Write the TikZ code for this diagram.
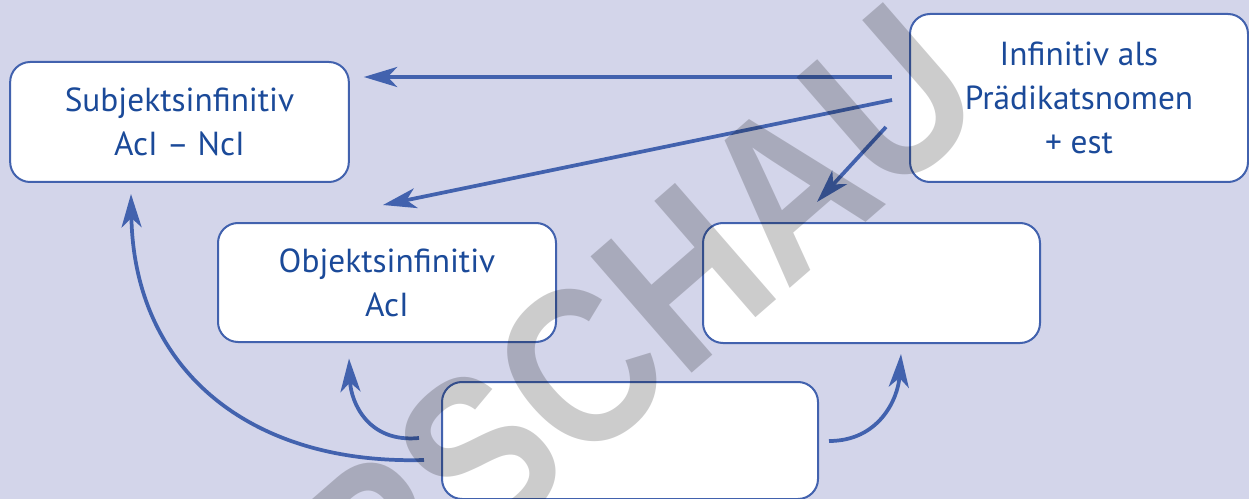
\documentclass[tikz,border=0pt]{standalone}
\usepackage{fontspec}
\setmainfont{PT Sans}
\newfontfamily\wzfont{Liberation Sans}
\usetikzlibrary{arrows.meta,calc}

\definecolor{bgviolet}{RGB}{211,213,234}
\definecolor{boxblue}{RGB}{66,98,174}
\definecolor{textblue}{RGB}{27,74,153}

\tikzset{every picture/.style={line width=0.75pt}}
\tikzset{
  kasten/.style={draw=boxblue, line width=1.5pt, fill=white, rounded corners=15pt,
    inner sep=0pt, align=center, text=textblue, font=\fontsize{25}{33}\selectfont},
  pfeil/.style={draw=boxblue, line width=2.8pt,
    -{Stealth[length=25pt,width=15pt,inset=7pt]}},
  wasserzeichen/.style={text=black, text opacity=0.2, font=\wzfont\bfseries\fontsize{168}{168}\selectfont}
}

\begin{document}
\begin{tikzpicture}[x=0.75pt,y=0.75pt,yscale=-1,xscale=1]
% Background
\fill[bgviolet] (0,0) rectangle (1249,499);
\useasboundingbox (0,0) rectangle (1249,499);

% Text Node
\node[kasten, minimum width=254pt, minimum height=90pt] (subj) at (179.5,122) {Subjektsinfinitiv\\AcI – NcI};
% Text Node
\node[kasten, minimum width=253.5pt, minimum height=126pt] (inf) at (1079,98) {Infinitiv als\\Prädikatsnomen\\+ est};
% Text Node
\node[kasten, minimum width=253.5pt, minimum height=89.25pt] (obj) at (387,282.5) {Objektsinfinitiv\\AcI};
% Text Node
\node[kasten, minimum width=252.75pt, minimum height=90pt] (leer) at (871.5,283) {};
% Text Node
\node[kasten, minimum width=282pt, minimum height=87.75pt] (basis) at (630,440.5) {};

% Connection
\draw[pfeil] ($(inf.west)+(-17,-21)$) -- ($(subj.east)+(14,-45)$);
% Connection
\draw[pfeil] ($(inf.west)+(-17,2)$) -- ($(obj.north)+(-4,-17)$);
% Connection
\draw[pfeil] ($(inf.west)+(-23,29)$) -- ($(leer.north)+(-54.5,-20)$);
% Curve Lines
\draw[pfeil] ($(basis.west)+(-17,19.5)$) .. controls +(-175,5) and +(3,175) .. ($(subj.south)+(-48.5,11)$);
% Curve Lines
\draw[pfeil] ($(basis.west)+(-22,-2.5)$) .. controls +(-50,5) and +(2,45) .. ($(obj.south)+(-38,15.5)$);
% Curve Lines
\draw[pfeil] ($(basis.east)+(10,0.5)$) .. controls +(50,0) and +(-3,45) .. ($(leer.south)+(29.5,10)$);

% Watermark
\node[wasserzeichen, rotate=41] (wz) at (532,410) {\scalebox{0.85}[1]{VORSCHAU}};
\end{tikzpicture}
\end{document}
